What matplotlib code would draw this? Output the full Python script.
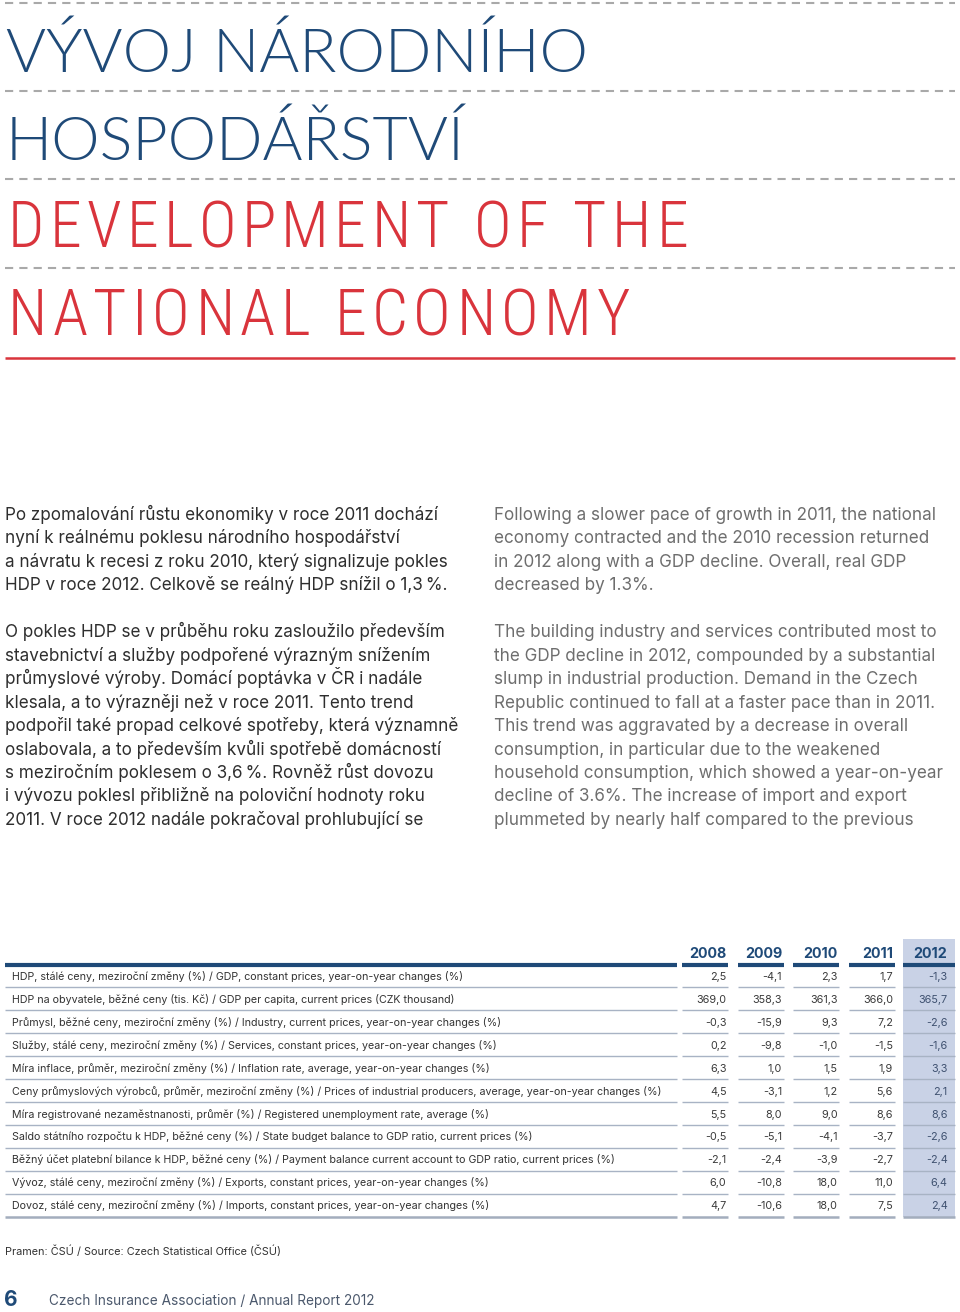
import os
import matplotlib
matplotlib.use('Agg')
import matplotlib.pyplot as plt
from matplotlib import font_manager
from matplotlib.font_manager import FontProperties
from matplotlib.patches import Rectangle
from matplotlib.textpath import TextToPath

font_files = [f.fname for f in font_manager.fontManager.ttflist]
names = {f.name for f in font_manager.fontManager.ttflist}


def pick(*cands):
    for c in cands:
        if c in names:
            return c
    return 'DejaVu Sans'


def font_file(*stems):
    for s in stems:
        for fn in font_files:
            if os.path.splitext(os.path.basename(fn))[0].lower() == s.lower():
                return fn
    return None


body_font = pick('Inter', 'Roboto', 'Noto Sans')
thin_file = font_file('Lato-Light', 'Roboto-Light', 'OpenSans-Light')
narrow_file = font_file('RobotoCondensed-Light', 'NotoSans-CondensedLight',
                        'OpenSans-CondensedLight', 'NotoSans-ExtraCondensedLight',
                        'LiberationSansNarrow-Regular', 'Roboto-Light')

# --- data ---
title_cz = ['VÝVOJ NÁRODNÍHO', 'HOSPODÁŘSTVÍ']
title_en = ['DEVELOPMENT OF THE', 'NATIONAL ECONOMY']

text_cz = [
    ['Po zpomalování růstu ekonomiky v roce 2011 dochází',
     'nyní k reálnému poklesu národního hospodářství',
     'a návratu k recesi z roku 2010, který signalizuje pokles',
     'HDP v roce 2012. Celkově se reálný HDP snížil o 1,3\u2009%.'],
    ['O pokles HDP se v průběhu roku zasloužilo především',
     'stavebnictví a služby podpořené výrazným snížením',
     'průmyslové výroby. Domácí poptávka v ČR i nadále',
     'klesala, a to výrazněji než v roce 2011. Tento trend',
     'podpořil také propad celkové spotřeby, která významně',
     'oslabovala, a to především kvůli spotřebě domácností',
     's meziročním poklesem o 3,6\u2009%. Rovněž růst dovozu',
     'i vývozu poklesl přibližně na poloviční hodnoty roku',
     '2011. V roce 2012 nadále pokračoval prohlubující se'],
]
text_en = [
    ['Following a slower pace of growth in 2011, the national',
     'economy contracted and the 2010 recession returned',
     'in 2012 along with a GDP decline. Overall, real GDP',
     'decreased by 1.3%.'],
    ['The building industry and services contributed most to',
     'the GDP decline in 2012, compounded by a substantial',
     'slump in industrial production. Demand in the Czech',
     'Republic continued to fall at a faster pace than in 2011.',
     'This trend was aggravated by a decrease in overall',
     'consumption, in particular due to the weakened',
     'household consumption, which showed a year-on-year',
     'decline of 3.6%. The increase of import and export',
     'plummeted by nearly half compared to the previous'],
]

years = ['2008', '2009', '2010', '2011', '2012']
row_labels = [
    'HDP, stálé ceny, meziroční změny (%) / GDP, constant prices, year-on-year changes (%)',
    'HDP na obyvatele, běžné ceny (tis. Kč) / GDP per capita, current prices (CZK thousand)',
    'Průmysl, běžné ceny, meziroční změny (%) / Industry, current prices, year-on-year changes (%)',
    'Služby, stálé ceny, meziroční změny (%) / Services, constant prices, year-on-year changes (%)',
    'Míra inflace, průměr, meziroční změny (%) / Inflation rate, average, year-on-year changes (%)',
    'Ceny průmyslových výrobců, průměr, meziroční změny (%) / Prices of industrial producers, average, year-on-year changes (%)',
    'Míra registrované nezaměstnanosti, průměr (%) / Registered unemployment rate, average (%)',
    'Saldo státního rozpočtu k HDP, běžné ceny (%) / State budget balance to GDP ratio, current prices (%)',
    'Běžný účet platební bilance k HDP, běžné ceny (%) / Payment balance current account to GDP ratio, current prices (%)',
    'Vývoz, stálé ceny, meziroční změny (%) / Exports, constant prices, year-on-year changes (%)',
    'Dovoz, stálé ceny, meziroční změny (%) / Imports, constant prices, year-on-year changes (%)',
]
gdp_growth = [2.5, -4.1, 2.3, 1.7, -1.3]
gdp_per_capita = [369.0, 358.3, 361.3, 366.0, 365.7]
industry = [-0.3, -15.9, 9.3, 7.2, -2.6]
services = [0.2, -9.8, -1.0, -1.5, -1.6]
inflation = [6.3, 1.0, 1.5, 1.9, 3.3]
producer_prices = [4.5, -3.1, 1.2, 5.6, 2.1]
unemployment = [5.5, 8.0, 9.0, 8.6, 8.6]
budget_balance = [-0.5, -5.1, -4.1, -3.7, -2.6]
current_account = [-2.1, -2.4, -3.9, -2.7, -2.4]
exports = [6.0, -10.8, 18.0, 11.0, 6.4]
imports = [4.7, -10.6, 18.0, 7.5, 2.4]
table_rows = [gdp_growth, gdp_per_capita, industry, services, inflation,
              producer_prices, unemployment, budget_balance, current_account,
              exports, imports]

source = 'Pramen: ČSÚ / Source: Czech Statistical Office (ČSÚ)'
page_no = '6'
footer = 'Czech Insurance Association / Annual Report 2012'

# --- colours ---
blue = '#1f4a78'
red = '#d9343c'
dash_grey = '#a9a9a9'
dark = '#2e2e2e'
grey_text = '#6e6e6e'
sep_col = '#a8b3c4'
hl_col = '#c9d2e6'

plt.rcParams['lines.scale_dashes'] = False
plt.rcParams['lines.solid_capstyle'] = 'butt'

fig = plt.figure(figsize=(9.6, 13.12), dpi=100)
ax = fig.add_axes([0, 0, 1, 1])
ax.set_xlim(0, 960)
ax.set_ylim(1312, 0)
ax.axis('off')

# --- heading ---
for y in [3, 90.5, 179, 267.5]:
    ax.plot([5, 955], [y, y], color=dash_grey, lw=1.5, ls=(0, (5.9, 4.4)))
ax.plot([5, 955], [357.5, 357.5], color=red, lw=1.8)

if thin_file:
    thin_fp = FontProperties(fname=thin_file, size=44)
else:
    thin_fp = FontProperties(family='DejaVu Sans', weight='light', size=44)
for i, t in enumerate(title_cz):
    ax.text(6, 72 + i * 88, t, fontproperties=thin_fp,
            color=blue, va='baseline', ha='left')

# condensed red heading, drawn letter by letter with loose tracking
if narrow_file:
    narrow_fp = FontProperties(fname=narrow_file, size=46)
else:
    narrow_fp = FontProperties(family='DejaVu Sans', weight='light', size=46)
ttp = TextToPath()
px = 100 / 72


def w_px(s):
    return ttp.get_text_width_height_descent(s, narrow_fp, ismath=False)[0] * px


space_w = w_px('n n') - w_px('nn')


def adv(ch):
    return space_w if ch == ' ' else w_px(ch)


first = title_en[0]
natural = sum(adv(c) for c in first)
track = (680 - natural) / (len(first) - 1)
for i, t in enumerate(title_en):
    x = 8
    for ch in t:
        if ch != ' ':
            ax.text(x, 247 + i * 88, ch, fontproperties=narrow_fp,
                    color=red, va='baseline', ha='left')
        x += adv(ch) + track

# --- body text ---
line_h = 23.45
for col_x, paras, col in [(5, text_cz, dark), (494, text_en, grey_text)]:
    y = 520
    for para in paras:
        for line in para:
            ax.text(col_x, y, line, fontsize=12.3, family=[body_font, 'DejaVu Sans'],
                    color=col, va='baseline', ha='left')
            y += line_h
        y += line_h

# --- table ---
row_h = 22.95
first_row = 976
seg_left = [682, 737.5, 793, 848.5, 903]
seg_right = [728, 784, 839, 895, 955]
val_right = [726.5, 782, 837.5, 893, 947.5]
top_line = 965
bottom = first_row + (len(table_rows) - 0.5) * row_h

ax.add_patch(Rectangle((seg_left[-1], 939), seg_right[-1] - seg_left[-1], bottom - 939,
                       facecolor=hl_col, edgecolor='none', zorder=0))

for j, yr in enumerate(years):
    ax.text(val_right[j], 958.5, yr, fontsize=10.3, family=body_font, weight='bold',
            color=blue, ha='right', va='baseline')

segments = [(5, 677)] + list(zip(seg_left, seg_right))
for x0, x1 in segments:
    ax.plot([x0, x1], [top_line, top_line], color=blue, lw=3)

for i, (label, vals) in enumerate(zip(row_labels, table_rows)):
    yc = first_row + i * row_h
    ax.text(12, yc + 3.8, label, fontsize=7.7, family=body_font, color='#333333',
            ha='left', va='baseline')
    for j, v in enumerate(vals):
        s = f'{v:.1f}'.replace('.', ',')
        ax.text(val_right[j], yc + 3.8, s, fontsize=7.8, family=body_font,
                color='#3a3a3a' if j < 4 else '#3f5170', ha='right', va='baseline')
    ys = yc + row_h / 2
    last = i == len(table_rows) - 1
    for x0, x1 in segments:
        ax.plot([x0, x1], [ys, ys], color='#a3adbd' if last else sep_col,
                lw=1.8 if last else 1.0, zorder=2)

# --- footer ---
ax.text(5, 1255, source, fontsize=7.85, family=body_font, color='#333333',
        ha='left', va='baseline')
ax.text(4, 1306, page_no, fontsize=15, family=body_font, weight='bold',
        color=blue, ha='left', va='baseline')
ax.text(49, 1305, footer, fontsize=9.8, family=body_font, color='#4b586c',
        ha='left', va='baseline')

fig.savefig('out.png', dpi=100)
